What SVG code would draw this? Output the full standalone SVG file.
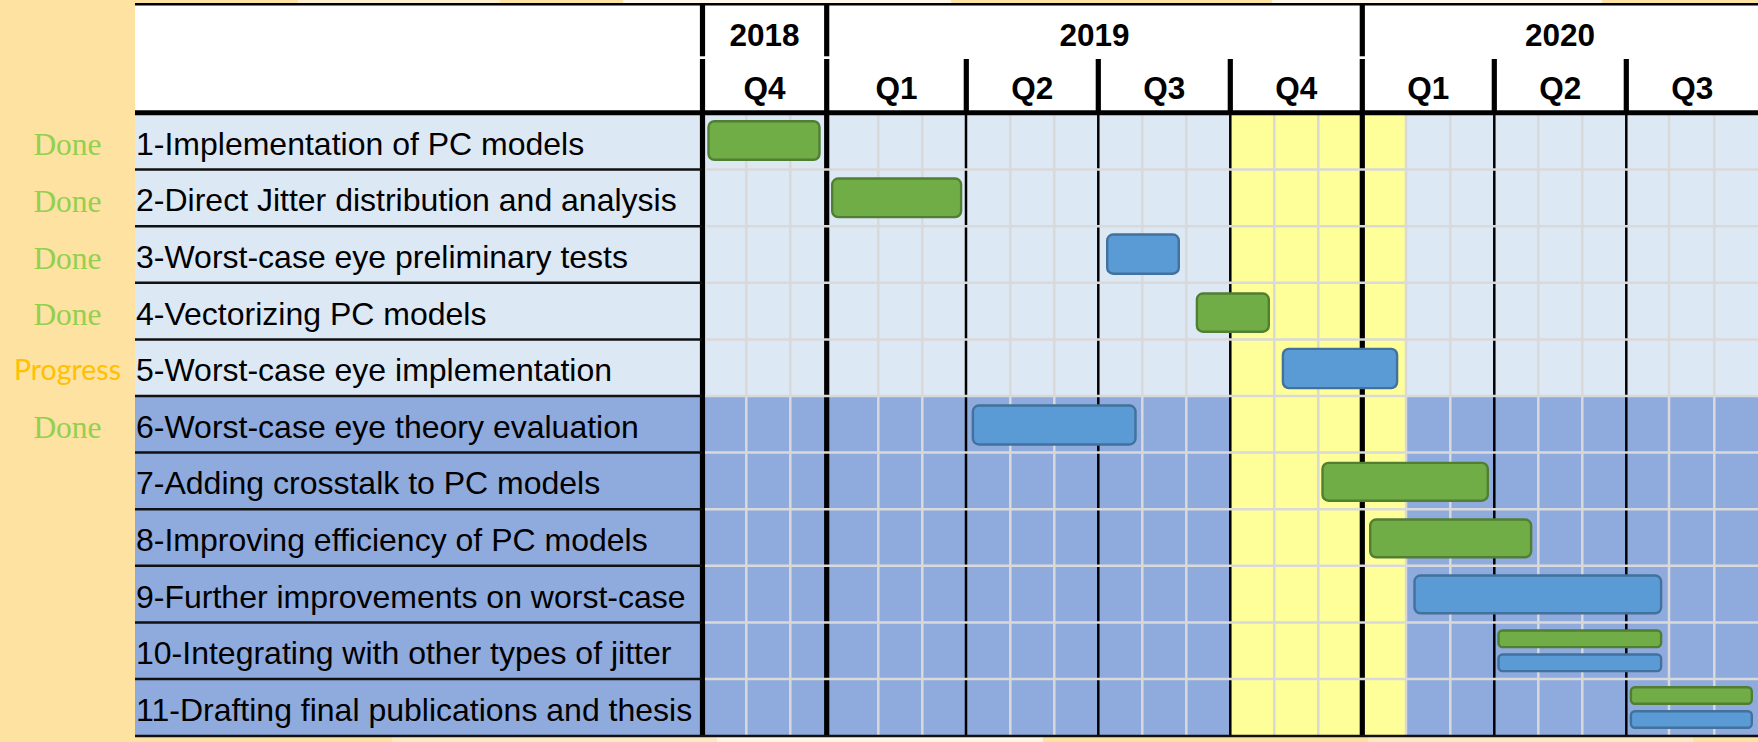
<svg xmlns="http://www.w3.org/2000/svg" width="1758" height="742" viewBox="0 0 1758 742">
  <style>
    .hdr { font-family: "Liberation Sans", Arial, sans-serif; font-weight: bold; font-size: 31.5px; fill: #000; text-anchor: middle; }
    .task { font-family: "Liberation Sans", Arial, sans-serif; font-size: 32px; fill: #000; }
    .done { font-family: "Liberation Serif", "Times New Roman", serif; font-size: 31.5px; fill: #92D050; text-anchor: middle; }
    .prog { font-family: Lato, "Open Sans", sans-serif; font-size: 28.5px; fill: #FFC000; text-anchor: middle; }
    .light { fill: #DDE8F5; }
    .dark { fill: #8FAADC; }
    .month { stroke: #D9D9D9; stroke-width: 2.5; }
    .rowgrid { stroke: #D9D9D9; stroke-width: 2.5; }
    .rowline { stroke: #111; stroke-width: 2.5; }
    .qline { stroke: #000; stroke-width: 2.5; }
    .yline { stroke: #000; stroke-width: 5.2; }
    .g { fill: #70AD47; stroke: #507E32; stroke-width: 2.4; }
    .b { fill: #5B9BD5; stroke: #41719C; stroke-width: 2.4; }
  </style>

  <!-- slide background -->
  <g id="background">
    <rect x="0" y="0" width="1758" height="742" fill="#FDE2A1"/>
    <rect x="298" y="0" width="202" height="3.4" fill="#FEEFCF"/>
    <rect x="623" y="0" width="328" height="3.4" fill="#FFF7EA"/>
    <rect x="1272" y="0" width="330" height="3.4" fill="#FFF7EA"/>
    <rect x="392" y="736" width="325" height="6" fill="#FDEAC5"/>
    <rect x="717" y="736" width="326" height="6" fill="#FFF5E4"/>
    <rect x="1368" y="736" width="325" height="6" fill="#FDEAC5"/>
  </g>

  <!-- header area -->
  <rect id="header-bg" x="135" y="5" width="1623" height="106" fill="#FFFFFF"/>

  <!-- row backgrounds: tasks 1-5 light, 6-11 dark -->
  <g id="row-fills">
    <rect class="light" x="135" y="113" width="1623" height="283"/>
    <rect class="dark" x="135" y="396" width="1623" height="339.6"/>
    <!-- highlighted months Oct 2019 - Jan 2020 -->
    <rect x="1231" y="113" width="175" height="622.6" fill="#FFFF99"/>
  </g>

  <!-- month grid -->
  <g id="month-lines">
    <line class="month" x1="746.3" y1="113" x2="746.3" y2="735.6"/>
    <line class="month" x1="790.3" y1="113" x2="790.3" y2="735.6"/>
    <line class="month" x1="878.3" y1="113" x2="878.3" y2="735.6"/>
    <line class="month" x1="922.3" y1="113" x2="922.3" y2="735.6"/>
    <line class="month" x1="1010.3" y1="113" x2="1010.3" y2="735.6"/>
    <line class="month" x1="1054.3" y1="113" x2="1054.3" y2="735.6"/>
    <line class="month" x1="1142.3" y1="113" x2="1142.3" y2="735.6"/>
    <line class="month" x1="1186.3" y1="113" x2="1186.3" y2="735.6"/>
    <line class="month" x1="1274.3" y1="113" x2="1274.3" y2="735.6"/>
    <line class="month" x1="1318.3" y1="113" x2="1318.3" y2="735.6"/>
    <line class="month" x1="1406" y1="113" x2="1406" y2="735.6"/>
    <line class="month" x1="1450.3" y1="113" x2="1450.3" y2="735.6"/>
    <line class="month" x1="1538.3" y1="113" x2="1538.3" y2="735.6"/>
    <line class="month" x1="1582.3" y1="113" x2="1582.3" y2="735.6"/>
    <line class="month" x1="1669" y1="113" x2="1669" y2="735.6"/>
    <line class="month" x1="1714.3" y1="113" x2="1714.3" y2="735.6"/>
  </g>

  <!-- quarter and year dividers in the body -->
  <g id="dividers">
    <line class="qline" x1="966" y1="113" x2="966" y2="735.6"/>
    <line class="qline" x1="1098.3" y1="113" x2="1098.3" y2="735.6"/>
    <line class="qline" x1="1230.3" y1="113" x2="1230.3" y2="735.6"/>
    <line class="qline" x1="1494.3" y1="113" x2="1494.3" y2="735.6"/>
    <line class="qline" x1="1626.3" y1="113" x2="1626.3" y2="735.6"/>
    <line class="yline" x1="702.5" y1="113" x2="702.5" y2="736"/>
    <line class="yline" x1="826.7" y1="113" x2="826.7" y2="736"/>
    <line class="yline" x1="1362.3" y1="113" x2="1362.3" y2="736"/>
  </g>

  <!-- row separators -->
  <g id="row-lines">
    <line class="rowline" x1="135" y1="169.6" x2="702" y2="169.6"/>
    <line class="rowline" x1="135" y1="226.2" x2="702" y2="226.2"/>
    <line class="rowline" x1="135" y1="282.8" x2="702" y2="282.8"/>
    <line class="rowline" x1="135" y1="339.4" x2="702" y2="339.4"/>
    <line class="rowline" x1="135" y1="396" x2="702" y2="396"/>
    <line class="rowline" x1="135" y1="452.6" x2="702" y2="452.6"/>
    <line class="rowline" x1="135" y1="509.2" x2="702" y2="509.2"/>
    <line class="rowline" x1="135" y1="565.8" x2="702" y2="565.8"/>
    <line class="rowline" x1="135" y1="622.4" x2="702" y2="622.4"/>
    <line class="rowline" x1="135" y1="679" x2="702" y2="679"/>
    <line class="rowgrid" x1="705" y1="169.6" x2="1758" y2="169.6"/>
    <line class="rowgrid" x1="705" y1="226.2" x2="1758" y2="226.2"/>
    <line class="rowgrid" x1="705" y1="282.8" x2="1758" y2="282.8"/>
    <line class="rowgrid" x1="705" y1="339.4" x2="1758" y2="339.4"/>
    <line class="rowgrid" x1="705" y1="396" x2="1758" y2="396"/>
    <line class="rowgrid" x1="705" y1="452.6" x2="1758" y2="452.6"/>
    <line class="rowgrid" x1="705" y1="509.2" x2="1758" y2="509.2"/>
    <line class="rowgrid" x1="705" y1="565.8" x2="1758" y2="565.8"/>
    <line class="rowgrid" x1="705" y1="622.4" x2="1758" y2="622.4"/>
    <line class="rowgrid" x1="705" y1="679" x2="1758" y2="679"/>
    <line class="rowline" x1="135" y1="736" x2="1758" y2="736"/>
  </g>

  <!-- header frame -->
  <g id="header">
    <line x1="135" y1="4.3" x2="1758" y2="4.3" stroke="#000" stroke-width="2.4"/>
    <line x1="135" y1="112.8" x2="1758" y2="112.8" stroke="#000" stroke-width="5"/>
    <line class="yline" x1="702.5" y1="4" x2="702.5" y2="56.3"/>
    <line class="yline" x1="826.7" y1="4" x2="826.7" y2="56.3"/>
    <line class="yline" x1="1362.3" y1="4" x2="1362.3" y2="56.3"/>
    <line class="yline" x1="702.5" y1="59" x2="702.5" y2="113"/>
    <line class="yline" x1="826.7" y1="59" x2="826.7" y2="113"/>
    <line class="yline" x1="966.3" y1="59" x2="966.3" y2="113"/>
    <line class="yline" x1="1098.3" y1="59" x2="1098.3" y2="113"/>
    <line class="yline" x1="1230.3" y1="59" x2="1230.3" y2="113"/>
    <line class="yline" x1="1362.3" y1="59" x2="1362.3" y2="113"/>
    <line class="yline" x1="1494.3" y1="59" x2="1494.3" y2="113"/>
    <line class="yline" x1="1626.3" y1="59" x2="1626.3" y2="113"/>
    <text class="hdr" x="764.5" y="45.5">2018</text>
    <text class="hdr" x="1094.5" y="45.5">2019</text>
    <text class="hdr" x="1560" y="45.5">2020</text>
    <text class="hdr" x="764.5" y="99">Q4</text>
    <text class="hdr" x="896.5" y="99">Q1</text>
    <text class="hdr" x="1032.3" y="99">Q2</text>
    <text class="hdr" x="1164.3" y="99">Q3</text>
    <text class="hdr" x="1296.3" y="99">Q4</text>
    <text class="hdr" x="1428.3" y="99">Q1</text>
    <text class="hdr" x="1560.3" y="99">Q2</text>
    <text class="hdr" x="1692.3" y="99">Q3</text>
  </g>

  <!-- tasks -->
  <g id="task-1">
    <text class="done" x="67.5" y="155.3">Done</text>
    <text class="task" x="136" y="154.7">1-Implementation of PC models</text>
    <rect class="g" x="708.5" y="121.2" width="111" height="38.6" rx="6"/>
  </g>
  <g id="task-2">
    <text class="done" x="67.5" y="211.9">Done</text>
    <text class="task" x="136" y="211.3">2-Direct Jitter distribution and analysis</text>
    <rect class="g" x="832.2" y="178.5" width="128.9" height="38.6" rx="6"/>
  </g>
  <g id="task-3">
    <text class="done" x="67.5" y="268.5">Done</text>
    <text class="task" x="136" y="267.9">3-Worst-case eye preliminary tests</text>
    <rect class="b" x="1107.2" y="234.5" width="71.6" height="39.2" rx="6"/>
  </g>
  <g id="task-4">
    <text class="done" x="67.5" y="325.1">Done</text>
    <text class="task" x="136" y="324.5">4-Vectorizing PC models</text>
    <rect class="g" x="1196.9" y="293.5" width="71.9" height="38.2" rx="6"/>
  </g>
  <g id="task-5">
    <text class="prog" x="67.5" y="380">Progress</text>
    <text class="task" x="136" y="381.1">5-Worst-case eye implementation</text>
    <rect class="b" x="1282.9" y="348.9" width="114.2" height="39.2" rx="6"/>
  </g>
  <g id="task-6">
    <text class="done" x="67.5" y="437.7">Done</text>
    <text class="task" x="136" y="437.7">6-Worst-case eye theory evaluation</text>
    <rect class="b" x="972.9" y="405.5" width="162.6" height="39" rx="6"/>
  </g>
  <g id="task-7">
    <text class="task" x="136" y="494.3">7-Adding crosstalk to PC models</text>
    <rect class="g" x="1322.5" y="462.9" width="165.3" height="37.8" rx="6"/>
  </g>
  <g id="task-8">
    <text class="task" x="136" y="550.9">8-Improving efficiency of PC models</text>
    <rect class="g" x="1370.2" y="519.5" width="160.9" height="37.8" rx="6"/>
  </g>
  <g id="task-9">
    <text class="task" x="136" y="607.5">9-Further improvements on worst-case</text>
    <rect class="b" x="1414.5" y="575.5" width="246.6" height="37.8" rx="6"/>
  </g>
  <g id="task-10">
    <text class="task" x="136" y="664.1">10-Integrating with other types of jitter</text>
    <rect class="g" x="1498.5" y="630.5" width="162.6" height="16.6" rx="4"/>
    <rect class="b" x="1498.5" y="654.5" width="162.6" height="16.6" rx="4"/>
  </g>
  <g id="task-11">
    <text class="task" x="136" y="720.7">11-Drafting final publications and thesis</text>
    <rect class="g" x="1630.9" y="687.2" width="120.9" height="16.6" rx="4"/>
    <rect class="b" x="1630.9" y="711.2" width="120.9" height="16.6" rx="4"/>
  </g>
</svg>
